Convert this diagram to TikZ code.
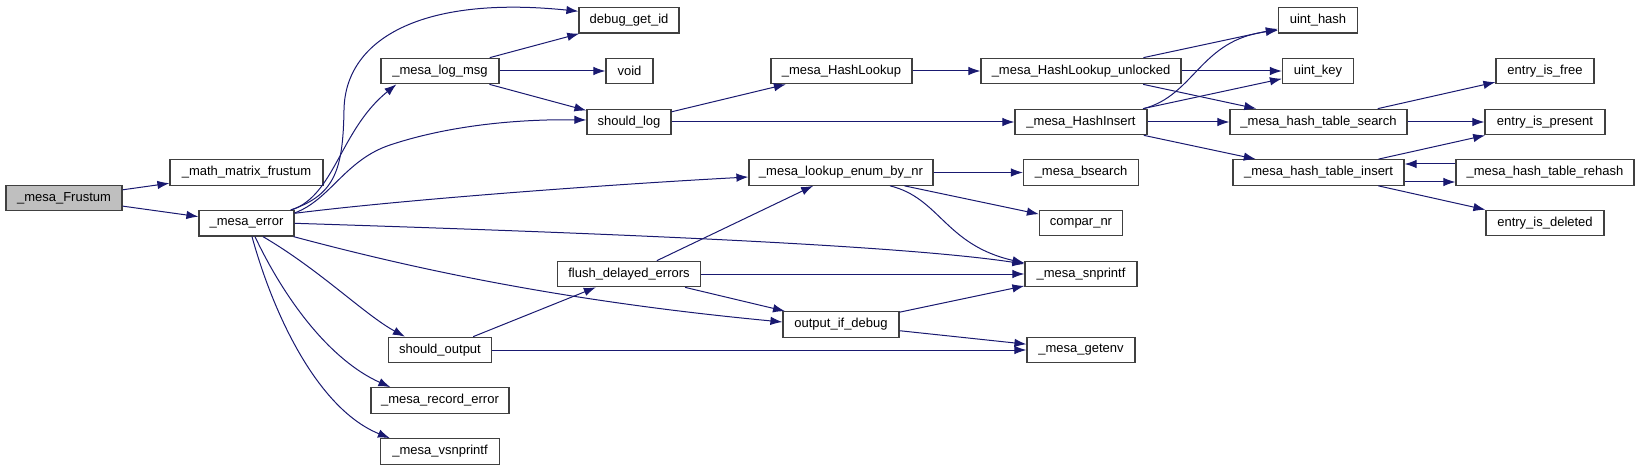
\documentclass[tikz,border=0pt]{standalone}
\usepackage{fontspec}
\setmainfont{Liberation Sans}
\usetikzlibrary{arrows.meta,calc}
\definecolor{edgeblue}{HTML}{191970}
\definecolor{boxline}{HTML}{404040}
\definecolor{rootfill}{HTML}{BFBFBF}
\tikzset{
  fn/.style={draw=boxline,line width=1.2pt,fill=white,minimum height=25.5pt,
    inner sep=0pt,font=\fontsize{13}{15}\selectfont},
  call/.style={->,edgeblue,line width=1pt},
}

\begin{document}
\begin{tikzpicture}[x=1pt,y=-1pt,>={Latex[length=12pt,width=8.5pt]}]
  \useasboundingbox (0,0) rectangle (1640,470);
  % 関数ノード
  \node[fn,fill=rootfill,minimum width=116pt] (frustum) at (64,198) {\_mesa\_Frustum};
  \node[fn,minimum width=153pt] (mathfrustum) at (246.5,172.5) {\_math\_matrix\_frustum};
  \node[fn,minimum width=95pt] (error) at (246.5,223.3) {\_mesa\_error};
  \node[fn,minimum width=100pt] (debugid) at (629,20.3) {debug\_get\_id};
  \node[fn,minimum width=118pt] (logmsg) at (440,71) {\_mesa\_log\_msg};
  \node[fn,minimum width=47pt] (void) at (629.5,71) {void};
  \node[fn,minimum width=84pt] (shouldlog) at (629,122) {should\_log};
  \node[fn,minimum width=141pt] (hashlookup) at (841.5,71) {\_mesa\_HashLookup};
  \node[fn,minimum width=200pt] (hashlookupunl) at (1081,71) {\_mesa\_HashLookup\_unlocked};
  \node[fn,minimum width=132pt] (hashinsert) at (1081,122) {\_mesa\_HashInsert};
  \node[fn,minimum width=184pt] (lookupenum) at (841,172.5) {\_mesa\_lookup\_enum\_by\_nr};
  \node[fn,minimum width=115pt] (bsearch) at (1081,172.5) {\_mesa\_bsearch};
  \node[fn,minimum width=83pt] (comparnr) at (1081,223) {compar\_nr};
  \node[fn,minimum width=112pt] (snprintf) at (1081,274) {\_mesa\_snprintf};
  \node[fn,minimum width=143pt] (flush) at (629,274) {flush\_delayed\_errors};
  \node[fn,minimum width=116pt] (outputdebug) at (841,324.5) {output\_if\_debug};
  \node[fn,minimum width=103pt] (shouldoutput) at (440,350) {should\_output};
  \node[fn,minimum width=108pt] (getenv) at (1081,350) {\_mesa\_getenv};
  \node[fn,minimum width=138pt] (recorderror) at (440,400.5) {\_mesa\_record\_error};
  \node[fn,minimum width=119pt] (vsnprintf) at (440,451.5) {\_mesa\_vsnprintf};
  \node[fn,minimum width=79pt] (uinthash) at (1318,20.3) {uint\_hash};
  \node[fn,minimum width=71pt] (uintkey) at (1318,71) {uint\_key};
  \node[fn,minimum width=177pt] (search) at (1318.5,122) {\_mesa\_hash\_table\_search};
  \node[fn,minimum width=171pt] (insert) at (1318.5,172.5) {\_mesa\_hash\_table\_insert};
  \node[fn,minimum width=178pt] (rehash) at (1545,172.5) {\_mesa\_hash\_table\_rehash};
  \node[fn,minimum width=98pt] (entryfree) at (1545,71) {entry\_is\_free};
  \node[fn,minimum width=120pt] (entrypresent) at (1545,122) {entry\_is\_present};
  \node[fn,minimum width=118pt] (entrydeleted) at (1545,223) {entry\_is\_deleted};
  % _mesa_Frustum から
  \draw[call] (frustum) -- (mathfrustum);
  \draw[call] (frustum) -- (error);
  % _mesa_error から
  \draw[call] ($(error.north east)+(-4,0)$) .. controls (335,195) and (343,170) .. (344,110)
    .. controls (345,40) and (420,-5) .. ($(debugid.west)+(0,-9)$);
  \draw[call] ($(error.north east)+(-3,0)$) .. controls (335,195) and (340,130) .. ($(logmsg.south west)+(16,0)$);
  \draw[call] ($(error.north east)+(0,3)$) .. controls (330,200) and (345,160) .. (390,145)
    .. controls (450,125) and (520,119) .. ($(shouldlog.west)+(0,-2)$);
  \draw[call] ($(error.east)+(0,-10)$) .. controls (400,200) and (600,185) .. ($(lookupenum.west)+(0,4.5)$);
  \draw[call] (error.east) .. controls (600,233) and (900,245) .. ($(snprintf.west)+(0,-10)$);
  \draw[call] ($(error.south east)+(-1,0)$) .. controls (400,265) and (550,300) .. ($(outputdebug.west)+(0,-2.5)$);
  \draw[call] ($(error.south)+(16.5,0)$) .. controls (320,270) and (365,315) .. ($(shouldoutput.north west)+(17,0)$);
  \draw[call] ($(error.south)+(8.5,0)$) .. controls (285,300) and (330,360) .. ($(recorderror.north west)+(20,0)$);
  \draw[call] ($(error.south)+(5.5,0)$) .. controls (275,320) and (320,410) .. ($(vsnprintf.north west)+(10,0)$);
  % _mesa_log_msg, should_log から
  \draw[call] (logmsg) -- (debugid);
  \draw[call] (logmsg) -- (void);
  \draw[call] (logmsg) -- (shouldlog);
  \draw[call] (shouldlog) -- (hashlookup);
  \draw[call] (shouldlog) -- (hashinsert);
  % ハッシュ
  \draw[call] (hashlookup) -- (hashlookupunl);
  \draw[call] (hashlookupunl) -- (uinthash);
  \draw[call] (hashlookupunl) -- (uintkey);
  \draw[call] (hashlookupunl) -- (search);
  \draw[call] ($(hashinsert.north east)+(-4,0)$) .. controls (1195,95) and (1200,40) .. ($(uinthash.west)+(0,10)$);
  \draw[call] (hashinsert) -- (uintkey);
  \draw[call] (hashinsert) -- (search);
  \draw[call] (hashinsert) -- (insert);
  \draw[call] (search) -- (entryfree);
  \draw[call] (search) -- (entrypresent);
  \draw[call] (insert) -- (entrypresent);
  \draw[call] ($(rehash.west)+(0,-8.5)$) -- ($(insert.east)+(0,-8.5)$);
  \draw[call] ($(insert.east)+(0,9.5)$) -- ($(rehash.west)+(0,9.5)$);
  \draw[call] (insert) -- (entrydeleted);
  % enum 検索
  \draw[call] (lookupenum) -- (bsearch);
  \draw[call] (lookupenum) -- (comparnr);
  \draw[call] ($(lookupenum.south)+(49,0)$) .. controls (940,198) and (945,245) .. ($(snprintf.west)+(0,-11)$);
  % 出力まわり
  \draw[call] (flush) -- (lookupenum);
  \draw[call] (flush) -- (snprintf);
  \draw[call] (flush) -- (outputdebug);
  \draw[call] (shouldoutput) -- (flush);
  \draw[call] (shouldoutput) -- (getenv);
  \draw[call] (outputdebug) -- (snprintf);
  \draw[call] (outputdebug) -- (getenv);
\end{tikzpicture}
\end{document}
